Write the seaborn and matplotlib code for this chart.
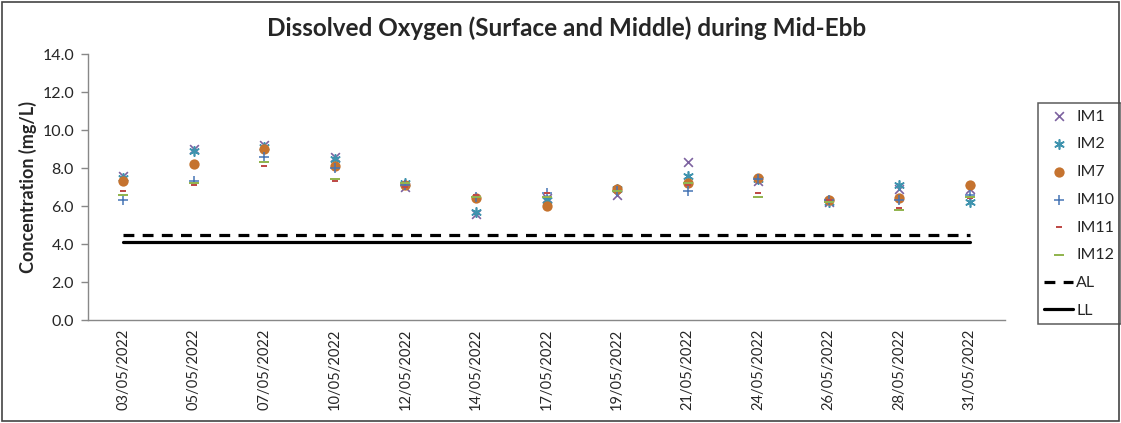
import numpy as np
import pandas as pd
import matplotlib
matplotlib.use("Agg")
import matplotlib.pyplot as plt
import seaborn as sns
from matplotlib.patches import Rectangle

# data
dates = ["03/05/2022", "05/05/2022", "07/05/2022", "10/05/2022", "12/05/2022",
         "14/05/2022", "17/05/2022", "19/05/2022", "21/05/2022", "24/05/2022",
         "26/05/2022", "28/05/2022", "31/05/2022"]
im1 = [7.6, 9.0, 9.2, 8.6, 7.0, 5.6, 6.4, 6.6, 8.3, 7.3, 6.2, 6.9, 6.9]
im2 = [7.5, 8.9, 9.1, 8.5, 7.2, 5.7, 6.3, 6.9, 7.6, 7.4, 6.2, 7.1, 6.2]
im7 = [7.3, 8.2, 9.0, 8.1, 7.1, 6.4, 6.0, 6.9, 7.2, 7.5, 6.3, 6.4, 7.1]
im10 = [6.3, 7.3, 8.6, 8.0, 7.1, 6.5, 6.7, 6.8, 6.8, 7.4, 6.3, 6.3, 6.6]
im11 = [6.8, 7.1, 8.1, 7.3, 7.0, 6.6, 6.7, 6.8, 7.1, 6.7, 6.3, 5.9, 6.4]
im12 = [6.6, 7.2, 8.3, 7.4, 7.2, 6.5, 6.5, 6.8, 7.2, 6.5, 6.2, 5.8, 6.5]
al_level = 4.5
ll_level = 4.1

series = {"IM1": im1, "IM2": im2, "IM7": im7, "IM10": im10, "IM11": im11, "IM12": im12}

sns.set_style("white")
plt.rcParams['font.family'] = ['Lato', 'DejaVu Sans']

fig = plt.figure(figsize=(11.21, 4.23), dpi=100)
ax = fig.add_axes([88 / 1121, 1 - 320 / 423, (1005 - 88) / 1121, (320 - 54) / 423])

short_dash = [(-1, -0.45), (1, -0.45), (1, 0.45), (-1, 0.45)]
long_dash = [(-1, -0.3), (1, -0.3), (1, 0.3), (-1, 0.3)]
styles = {
    "IM1": dict(marker="x", color="#7D62A0", s=40, linewidths=1.2),
    "IM2": dict(marker=(6, 2, 0), color="#3F93AE", s=45, linewidths=1.2),
    "IM7": dict(marker="o", color="#C5732F", s=55, linewidths=0),
    "IM10": dict(marker="+", color="#4775B5", s=55, linewidths=1.1),
    "IM11": dict(marker=short_dash, color="#BE4B48", s=22, linewidths=0),
    "IM12": dict(marker=long_dash, color="#92B550", s=50, linewidths=0),
}

for name, vals in series.items():
    df = pd.DataFrame({"Date": dates, "DO": vals})
    sns.scatterplot(data=df, x="Date", y="DO", ax=ax, label=name, **styles[name])

lim_df = pd.DataFrame({"Date": dates, "AL": [al_level] * len(dates), "LL": [ll_level] * len(dates)})
sns.lineplot(data=lim_df, x="Date", y="AL", ax=ax, color="black", linewidth=2.3,
             dashes=False, label="AL", sort=False)
ax.lines[-1].set_dashes((3.4, 2.6))
sns.lineplot(data=lim_df, x="Date", y="LL", ax=ax, color="black", linewidth=2.3, label="LL", sort=False)

ax.set_xlim(-0.5, len(dates) - 0.5)
ax.set_ylim(0, 14)
ax.set_yticks(np.arange(0, 14.1, 2))
ax.set_yticklabels([f"{v:.1f}" for v in np.arange(0, 14.1, 2)], fontsize=11.5)
ax.set_xticks(range(len(dates)))
ax.set_xticklabels(dates, rotation=90, fontsize=10.5)
ax.set_xticks(np.arange(-0.5, len(dates), 1), minor=True)
ax.tick_params(axis="x", which="major", length=0, pad=6)
ax.tick_params(axis="x", which="minor", length=5, color="#888888", width=1)
ax.tick_params(axis="y", length=5, color="#888888", width=1, left=True, pad=5)
ax.set_xlabel("")
ax.set_ylabel("Concentration (mg/L)", fontsize=13, fontweight="bold", labelpad=4)
for side in ["top", "right"]:
    ax.spines[side].set_visible(False)
for side in ["left", "bottom"]:
    ax.spines[side].set_color("#888888")
    ax.spines[side].set_linewidth(1)

fig.text(0.505, 1 - 28 / 423, "Dissolved Oxygen (Surface and Middle) during Mid-Ebb",
         fontsize=17.5, fontweight="bold", ha="center", va="center")

handles, labels = ax.get_legend_handles_labels()
leg = ax.legend(handles, labels, loc="upper left", bbox_to_anchor=(1038 / 1121, 1 - 103 / 423),
                bbox_transform=fig.transFigure, frameon=True, fancybox=False, fontsize=11.5,
                labelspacing=0.85, handlelength=1.8, handletextpad=0.2, borderpad=0.4,
                borderaxespad=0)
leg.get_frame().set_edgecolor("#333333")
leg.get_frame().set_linewidth(1.1)

fig.patches.append(Rectangle((2 / 1121, 2 / 423), 1 - 4 / 1121, 1 - 4 / 423, transform=fig.transFigure,
                             fill=False, edgecolor="#444444", linewidth=1.2))

fig.savefig("out.png", dpi=100)
